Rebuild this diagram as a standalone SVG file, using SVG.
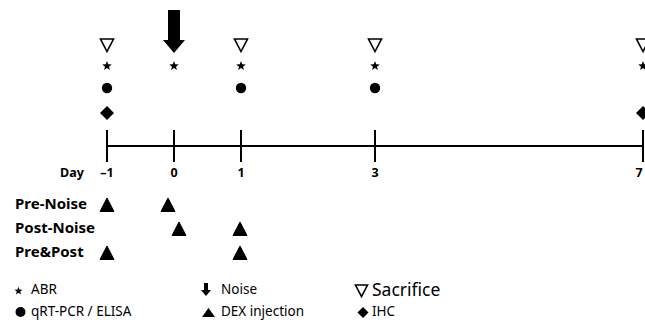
<svg xmlns="http://www.w3.org/2000/svg" xmlns:xlink="http://www.w3.org/1999/xlink" width="645" height="320" viewBox="0 0 645 320">
<style>
.lbl{font-family:"Noto Sans","Open Sans","Liberation Sans",sans-serif;fill:#000}
.grp{font-size:15px;font-weight:bold}
.day{font-size:12.5px;font-weight:bold;text-anchor:middle}
.leg{font-size:13.5px}
.axis{stroke:#000;stroke-width:2;fill:none}
.sac{fill:#fff;stroke:#000;stroke-width:1.6;stroke-linejoin:miter}
.blk{fill:#000}
</style>
<defs>
<polygon id="star" class="blk" points="0,-5 1.23,-1.7 4.76,-1.55 2,0.65 2.94,4.05 0,2.1 -2.94,4.05 -2,0.65 -4.76,-1.55 -1.23,-1.7"/>
<polygon id="sac" class="sac" points="-6.5,-6 6.5,-6 0,6.5"/>
<circle id="dot" class="blk" r="5.2"/>
<polygon id="dia" class="blk" points="0,-7 7,0 0,7 -7,0"/>
<polygon id="tri" class="blk" stroke="#000" stroke-width="1" stroke-linejoin="round" points="0,-7 7,6.5 -7,6.5"/>
</defs>
<g id="connectors">
<line class="axis" x1="107" y1="146" x2="643" y2="146"/>
<line class="axis" x1="107" y1="130" x2="107" y2="162"/>
<line class="axis" x1="174" y1="130" x2="174" y2="162"/>
<line class="axis" x1="241" y1="130" x2="241" y2="162"/>
<line class="axis" x1="375" y1="130" x2="375" y2="162"/>
<line class="axis" x1="643" y1="130" x2="643" y2="162"/>
</g>
<g id="noise-arrow">
<polygon class="blk" points="168,10 180,10 180,40 185,40 174,53 163,40 168,40"/>
</g>
<g id="day-minus1">
<use xlink:href="#sac" x="107" y="45"/>
<use xlink:href="#star" x="107" y="66"/>
<use xlink:href="#dot" x="107" y="88"/>
<use xlink:href="#dia" x="107" y="113"/>
<text class="lbl day" x="107" y="177">–1</text>
</g>
<g id="day-0">
<use xlink:href="#star" x="174" y="66"/>
<text class="lbl day" x="174" y="177">0</text>
</g>
<g id="day-1">
<use xlink:href="#sac" x="241" y="45"/>
<use xlink:href="#star" x="241" y="66"/>
<use xlink:href="#dot" x="241" y="88"/>
<text class="lbl day" x="241" y="177">1</text>
</g>
<g id="day-3">
<use xlink:href="#sac" x="375" y="45"/>
<use xlink:href="#star" x="375" y="66"/>
<use xlink:href="#dot" x="375" y="88"/>
<text class="lbl day" x="375" y="177">3</text>
</g>
<g id="day-7">
<use xlink:href="#sac" x="643" y="45"/>
<use xlink:href="#star" x="643" y="66"/>
<use xlink:href="#dia" x="643" y="113"/>
<text class="lbl day" x="639" y="177">7</text>
</g>
<g id="day-label">
<text class="lbl day" x="72" y="177">Day</text>
</g>
<g id="pre-noise">
<text class="lbl grp" x="15" y="209">Pre-Noise</text>
<use xlink:href="#tri" x="107" y="205"/>
<use xlink:href="#tri" x="168" y="205"/>
</g>
<g id="post-noise">
<text class="lbl grp" x="15" y="233">Post-Noise</text>
<use xlink:href="#tri" x="179" y="229"/>
<use xlink:href="#tri" x="240" y="229"/>
</g>
<g id="pre-post">
<text class="lbl grp" x="15" y="257">Pre&amp;Post</text>
<use xlink:href="#tri" x="107" y="253"/>
<use xlink:href="#tri" x="240" y="253"/>
</g>
<g id="legend">
<polygon class="blk" transform="translate(18.5 291) scale(0.85)" points="0,-5 1.23,-1.7 4.76,-1.55 2,0.65 2.94,4.05 0,2.1 -2.94,4.05 -2,0.65 -4.76,-1.55 -1.23,-1.7"/>
<text class="lbl leg" x="31" y="294">ABR</text>
<circle class="blk" cx="20.5" cy="312" r="5"/>
<text class="lbl leg" x="31" y="316">qRT-PCR / ELISA</text>
<polygon class="blk" points="204,283 208,283 208,290 211,290 206,296 201,290 204,290"/>
<text class="lbl leg" x="221" y="294">Noise</text>
<polygon class="blk" points="208.5,308 215,317 202,317"/>
<text class="lbl leg" x="221" y="316">DEX injection</text>
<polygon class="sac" points="355.5,285 367.5,285 361.5,296.5"/>
<text class="lbl" x="372" y="296" font-size="17.5">Sacrifice</text>
<polygon class="blk" points="363,307 368.5,312.5 363,318 357.5,312.5"/>
<text class="lbl leg" x="372" y="316">IHC</text>
</g>
</svg>
